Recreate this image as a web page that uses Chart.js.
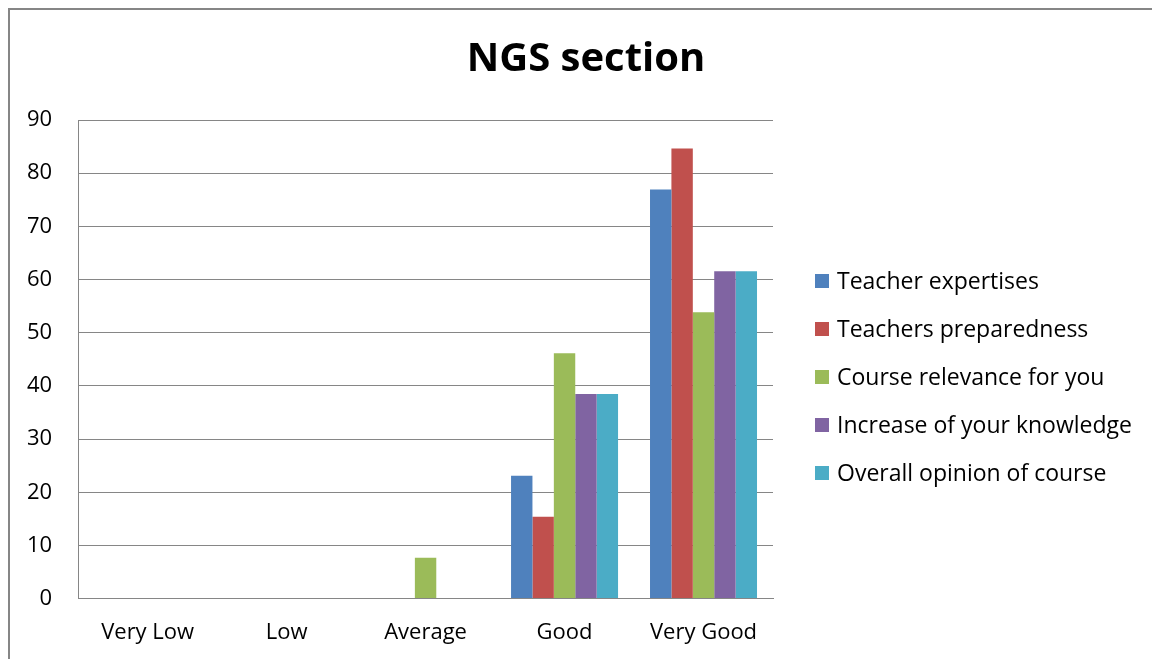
<!DOCTYPE html>
<html>
<head>
<meta charset="utf-8">
<script src="https://cdn.jsdelivr.net/npm/chart.js@4"></script>
<style>
  html, body { margin: 0; padding: 0; background: #fff; }
  #wrap { position: relative; width: 1152px; height: 659px; }
</style>
</head>
<body>
<div id="wrap"><canvas id="myChart" width="1152" height="659"></canvas></div>
<script>
// datos del grafico
const categorias = ["Very Low", "Low", "Average", "Good", "Very Good"];
const nombresSeries = [
    "Teacher expertises",
    "Teachers preparedness",
    "Course relevance for you",
    "Increase of your knowledge",
    "Overall opinion of course"
];
const teacherExpertises = [0, 0, 0, 23.08, 76.92];
const teachersPreparedness = [0, 0, 0, 15.38, 84.62];
const courseRelevance = [0, 0, 7.69, 46.15, 53.85];
const increaseKnowledge = [0, 0, 0, 38.46, 61.54];
const overallOpinion = [0, 0, 0, 38.46, 61.54];
const colores = ["#4F81BD", "#C0504D", "#9BBB59", "#8064A2", "#4BACC6"];
const titulo = "NGS section";

const valores = [teacherExpertises, teachersPreparedness, courseRelevance, increaseKnowledge, overallOpinion];
const fuente = "'Open Sans', 'Noto Sans', sans-serif";

// marco exterior + titulo
const marco = {
    id: "marco",
    beforeDraw(chart) {
        const c = chart.ctx;
        c.save();
        c.fillStyle = "#fff";
        c.fillRect(0, 0, chart.width, chart.height);
        c.strokeStyle = "#868686";
        c.lineWidth = 2;
        c.strokeRect(9, 9, 1300, 800);
        c.fillStyle = "#000";
        c.font = "bold 40px " + fuente;
        c.textAlign = "center";
        c.textBaseline = "middle";
        c.fillText(titulo, 586, 60);
        c.restore();
    }
};

// leyenda a la derecha (dibujada a mano)
const leyenda = {
    id: "leyenda",
    afterDraw(chart) {
        const c = chart.ctx;
        const x0 = chart.chartArea.right + 42;
        const y0 = 281;
        const paso = 48;
        c.save();
        c.font = "23px " + fuente;
        c.textBaseline = "middle";
        c.textAlign = "left";
        chart.data.datasets.forEach((ds, i) => {
            const y = y0 + i * paso;
            c.fillStyle = ds.backgroundColor;
            c.fillRect(x0, y - 7, 14, 14);
            c.fillStyle = "#000";
            c.fillText(ds.label, x0 + 22, y + 1);
        });
        c.restore();
    }
};

const ctx = document.getElementById("myChart").getContext("2d");
let myChart = new Chart(ctx, {
    type: "bar",
    data: {
        labels: categorias,
        datasets: nombresSeries.map((n, i) => ({
            label: n,
            data: valores[i],
            backgroundColor: colores[i],
            borderWidth: 0,
            barPercentage: 1,
            categoryPercentage: 0.77,
        })),
    },
    options: {
        responsive: false,
        animation: false,
        layout: { padding: { left: 1, right: 379, top: 120, bottom: -8 } },
        plugins: {
            title: { display: false },
            legend: { display: false },
            tooltip: { enabled: false },
        },
        scales: {
            x: {
                grid: { display: false, drawTicks: false },
                border: { color: "#868686", width: 1 },
                ticks: { color: "#000", font: { family: fuente, size: 22 }, padding: 21 },
            },
            y: {
                min: 0,
                max: 90,
                ticks: { stepSize: 10, color: "#000", font: { family: fuente, size: 22 }, padding: 26 },
                grid: { color: "#868686", lineWidth: 1, drawTicks: false },
                border: { color: "#868686", width: 1 },
            },
        },
    },
    plugins: [marco, leyenda],
});
</script>
</body>
</html>
